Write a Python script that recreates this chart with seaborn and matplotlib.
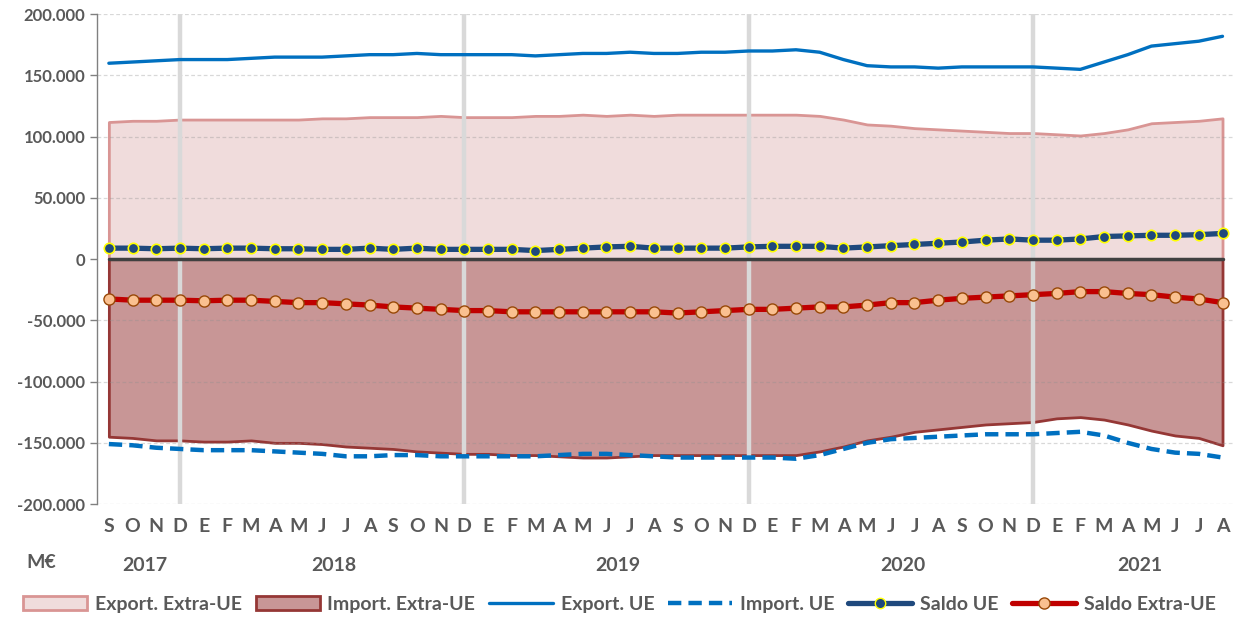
import numpy as np
import pandas as pd
import matplotlib
matplotlib.use("Agg")
import matplotlib.pyplot as plt
import seaborn as sns
from matplotlib.patches import Patch
from matplotlib.lines import Line2D
from matplotlib.ticker import FuncFormatter

# ---------------------------------------------
#   Data (M€ in thousands)
# ---------------------------------------------
months = ['S', 'O', 'N', 'D'] + ['E', 'F', 'M', 'A', 'M', 'J', 'J', 'A', 'S', 'O', 'N', 'D'] * 3 \
    + ['E', 'F', 'M', 'A', 'M', 'J', 'J', 'A']
years = ['2017', '2018', '2019', '2020', '2021']

export_ue = [160, 161, 162, 163, 163, 163, 164, 165, 165, 165, 166, 167,
             167, 168, 167, 167, 167, 167, 166, 167, 168, 168, 169, 168,
             168, 169, 169, 170, 170, 171, 169, 163, 158, 157, 157, 156,
             157, 157, 157, 157, 156, 155, 161, 167, 174, 176, 178, 182]
import_ue = [-151, -152, -154, -155, -156, -156, -156, -157, -158, -159, -161, -161,
             -160, -160, -161, -161, -161, -161, -161, -160, -159, -159, -160, -161,
             -162, -162, -162, -162, -162, -163, -160, -155, -150, -147, -146, -145,
             -144, -143, -143, -143, -142, -141, -144, -150, -155, -158, -159, -162]
export_extra = [112, 113, 113, 114, 114, 114, 114, 114, 114, 115, 115, 116,
                116, 116, 117, 116, 116, 116, 117, 117, 118, 117, 118, 117,
                118, 118, 118, 118, 118, 118, 117, 114, 110, 109, 107, 106,
                105, 104, 103, 103, 102, 101, 103, 106, 111, 112, 113, 115]
import_extra = [-145, -146, -148, -148, -149, -149, -148, -150, -150, -151, -153, -154,
                -155, -157, -158, -159, -159, -160, -160, -161, -162, -162, -161, -160,
                -160, -160, -160, -160, -160, -160, -157, -153, -148, -145, -141, -139,
                -137, -135, -134, -133, -130, -129, -131, -135, -140, -144, -146, -152]
saldo_ue = [9, 9, 8.5, 9, 8.5, 9, 9, 8.5, 8.5, 8, 8, 9,
            8, 9, 8, 8, 8, 8, 7, 8, 9, 10, 10.5, 9,
            9, 9, 9, 10, 10.5, 10.5, 10.5, 9, 10, 11, 12, 13,
            14, 15.5, 16.5, 15.5, 15.5, 16.5, 18.5, 19, 19.5, 19.5, 20, 21]
saldo_extra = [-32.5, -33.5, -33.5, -33.5, -34, -33.5, -33.5, -34.5, -35.5, -35.5, -36.5, -37.5,
               -39, -40, -41, -42, -42, -43, -43, -43, -43, -43, -43, -43,
               -44, -43, -42, -41, -41, -40, -39, -39, -37.5, -35.5, -35.5, -33.5,
               -32, -31, -30, -29, -28, -26.5, -26.5, -28, -29, -31, -32.5, -35.5]

df = pd.DataFrame({
    'idx': np.arange(len(months)),
    'export_ue': np.array(export_ue) * 1000,
    'import_ue': np.array(import_ue) * 1000,
    'export_extra': np.array(export_extra) * 1000,
    'import_extra': np.array(import_extra) * 1000,
    'saldo_ue': np.array(saldo_ue) * 1000,
    'saldo_extra': np.array(saldo_extra) * 1000,
})

# ---------------------------------------------
#   Plot
# ---------------------------------------------
sns.set_theme(style="white")
plt.rcParams['font.family'] = ['Lato', 'DejaVu Sans']
txt = '#595959'

fig = plt.figure(figsize=(12.39, 6.2), dpi=100)
ax = fig.add_axes([0.0783, 0.187, 0.917, 0.790])

ax.fill_between(df['idx'], 0, df['export_extra'], facecolor='#F0DCDC', edgecolor='#D99594',
                linewidth=2, zorder=1)
ax.fill_between(df['idx'], 0, df['import_extra'], facecolor='#C89696', edgecolor='#953735',
                linewidth=2, zorder=1)

# dashed grid over the fills
for v in range(-200000, 200001, 50000):
    if v != 0:
        ax.axhline(v, color='#909090', lw=0.9, ls=(0, (3, 2)), alpha=0.35, zorder=2)

# december separators
dec_pos = [i for i, m in enumerate(months) if m == 'D']
for d in dec_pos:
    ax.axvline(d, color='#D9D9D9', lw=3.2, zorder=2)

ax.plot([0, len(months) - 1], [0, 0], color='#404040', lw=2.5, zorder=3)

sns.lineplot(data=df, x='idx', y='export_ue', ax=ax, color='#0070C0', lw=2.4, zorder=4)
sns.lineplot(data=df, x='idx', y='import_ue', ax=ax, color='#0070C0', lw=3.2, zorder=4,
             linestyle=(0, (3, 1.6)))
sns.lineplot(data=df, x='idx', y='saldo_ue', ax=ax, color='#1F497D', lw=3.8, zorder=5,
             marker='o', markersize=7.5, markerfacecolor='#1F497D', markeredgecolor='#FFFF00',
             markeredgewidth=1.2)
sns.lineplot(data=df, x='idx', y='saldo_extra', ax=ax, color='#C00000', lw=3.8, zorder=5,
             marker='o', markersize=8, markerfacecolor='#FAC090', markeredgecolor='#984807',
             markeredgewidth=1.0)

ax.set_xlim(-0.5, 47.45)
ax.set_ylim(-200000, 200000)
ax.set_yticks(range(-200000, 200001, 50000))
ax.yaxis.set_major_formatter(FuncFormatter(lambda v, p: f"{int(v):,}".replace(",", ".")))
ax.set_xticks(df['idx'])
ax.set_xticklabels(months)
ax.set_xlabel('')
ax.set_ylabel('')
ax.tick_params(axis='y', labelsize=12, colors=txt, length=5, width=1, color='#808080', left=True)
ax.tick_params(axis='x', labelsize=14, colors=txt, length=0, pad=10)
for lab in ax.get_xticklabels() + ax.get_yticklabels():
    lab.set_fontweight('bold')

for s in ['top', 'right', 'bottom']:
    ax.spines[s].set_visible(False)
ax.spines['left'].set_color('#808080')
ax.spines['left'].set_linewidth(1)

# year labels centred on their months
starts = [0] + [i for i, m in enumerate(months) if m == 'E'] + [len(months)]
for k, y in enumerate(years):
    c = (starts[k] + starts[k + 1] - 1) / 2
    ax.text(c, -0.125, y, transform=ax.get_xaxis_transform(), ha='center', va='center',
            fontsize=14, fontweight='bold', color=txt)
fig.text(0.033, 0.093, 'M€', ha='center', va='center', fontsize=14, fontweight='bold', color=txt)

handles = [
    Patch(facecolor='#F0DCDC', edgecolor='#D99594', linewidth=2, label='Export. Extra-UE'),
    Patch(facecolor='#C89696', edgecolor='#953735', linewidth=2, label='Import. Extra-UE'),
    Line2D([], [], color='#0070C0', lw=2.4, label='Export. UE'),
    Line2D([], [], color='#0070C0', lw=3.2, linestyle=(0, (3, 1.6)), label='Import. UE'),
    Line2D([], [], color='#1F497D', lw=3.8, marker='o', markersize=7.5, markerfacecolor='#1F497D',
           markeredgecolor='#FFFF00', label='Saldo UE'),
    Line2D([], [], color='#C00000', lw=3.8, marker='o', markersize=8, markerfacecolor='#FAC090',
           markeredgecolor='#984807', label='Saldo Extra-UE'),
]
leg = fig.legend(handles=handles, loc='center', bbox_to_anchor=(0.5, 0.025), ncol=6, frameon=False,
                 fontsize=14, handlelength=3.3, columnspacing=0.7, handletextpad=0.4)
for t in leg.get_texts():
    t.set_color(txt)
    t.set_fontweight('bold')

fig.savefig('out.png', dpi=100)
